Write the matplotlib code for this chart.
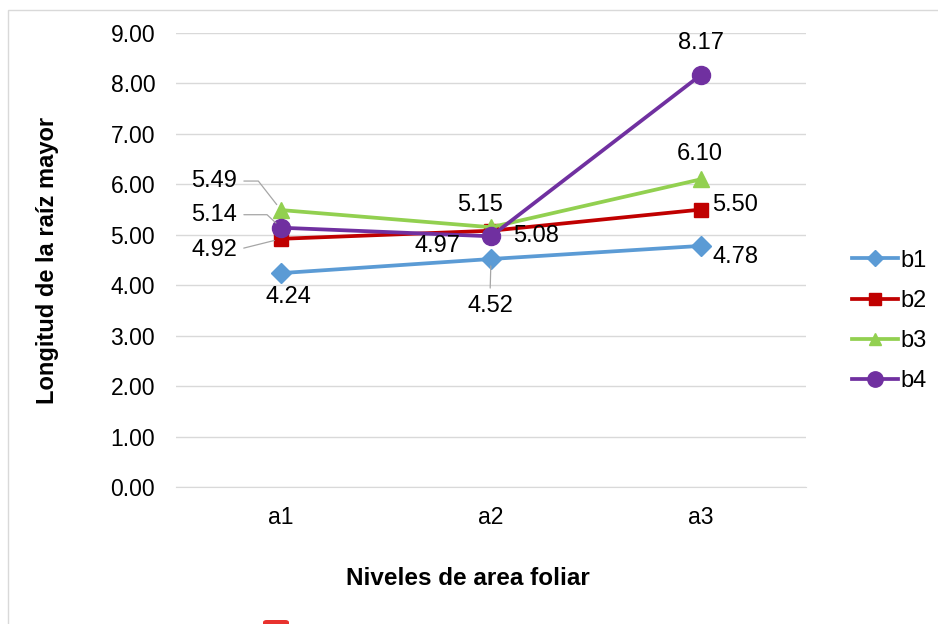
import matplotlib
matplotlib.use("Agg")
import matplotlib.pyplot as plt
from matplotlib.patches import Rectangle, FancyBboxPatch

plt.rcParams['font.family'] = ['Liberation Sans', 'DejaVu Sans']

categories = ["a1", "a2", "a3"]
b1 = [4.24, 4.52, 4.78]
b2 = [4.92, 5.08, 5.50]
b3 = [5.49, 5.15, 6.10]
b4 = [5.14, 4.97, 8.17]
series_names = ["b1", "b2", "b3", "b4"]
y_ticks = [0, 1, 2, 3, 4, 5, 6, 7, 8, 9]

W, H = 938, 624
fig = plt.figure(figsize=(W / 100, H / 100), dpi=100)
fig.patch.set_facecolor("white")

# outer chart frame
fig.patches.append(Rectangle((8 / W, -0.05), 1.2, (H - 10) / H + 0.05,
                             transform=fig.transFigure, fill=False,
                             edgecolor="#D9D9D9", lw=1.0))
# small red tab peeking in at the bottom edge
fig.patches.append(FancyBboxPatch((263 / W, -10 / H), 26 / W, 14 / H,
                                  boxstyle="round,pad=0,rounding_size=0.004",
                                  transform=fig.transFigure,
                                  facecolor="#E8322E", edgecolor="none"))

ax = fig.add_axes([176 / W, (H - 487) / H, 630 / W, (487 - 33) / H])
x = list(range(len(categories)))

styles = [
    (b1, "#5B9BD5", "D", 10),
    (b2, "#C00000", "s", 10),
    (b3, "#92D050", "^", 11),
    (b4, "#7030A0", "o", 13),
]
for (vals, col, mk, ms), name in zip(styles, series_names):
    ax.plot(x, vals, color=col, lw=2.7, marker=mk, markersize=ms,
            label=name, zorder=3)

ax.set_xlim(-0.5, 2.5)
ax.set_ylim(0, 9)
ax.set_yticks(y_ticks)
ax.set_yticklabels([f"{v:.2f}" for v in y_ticks])
ax.set_xticks(x)
ax.set_xticklabels(categories)
ax.tick_params(axis="both", length=0, labelsize=16.5, colors="#000000")
ax.tick_params(axis="y", pad=15)
ax.tick_params(axis="x", pad=14)
ax.grid(axis="y", color="#D9D9D9", lw=1.0)
ax.set_axisbelow(True)
for s in ["top", "right", "left"]:
    ax.spines[s].set_visible(False)
ax.spines["bottom"].set_color("#D9D9D9")

ax.set_ylabel("Longitud de la raíz mayor", fontsize=17, fontweight="bold",
              labelpad=37)
ax.set_xlabel("Niveles de area foliar", fontsize=17.5, fontweight="bold")
ax.xaxis.set_label_coords((468 - 176) / 630, (487 - 567) / 454)

# data labels: (series, category index, offset in pixels, leader connection)
label_specs = [
    (b1, 0, (7, -24), None),
    (b1, 1, (-1, -47), ((0.5, 1.0), "arc3")),
    (b1, 2, (34, -11), None),
    (b2, 0, (-67, -11), ((1.0, 0.5), "arc3")),
    (b2, 1, (45, -5), None),
    (b2, 2, (34, 5), None),
    (b3, 0, (-67, 29), ((1.0, 0.5), "angle,angleA=0,angleB=128,rad=0")),
    (b3, 1, (-11, 22), None),
    (b3, 2, (-1, 25), None),
    (b4, 0, (-67, 13), ((1.0, 0.5), "angle,angleA=0,angleB=137,rad=0")),
    (b4, 1, (-54, -10), None),
    (b4, 2, (0, 32), None),
]
for vals, i, off, lead in label_specs:
    kw = {}
    if lead is not None:
        rel, conn = lead
        kw["arrowprops"] = dict(arrowstyle="-", color="#A6A6A6", lw=0.9,
                                shrinkA=3, shrinkB=5, relpos=rel,
                                connectionstyle=conn)
    ax.annotate(f"{vals[i]:.2f}", xy=(i, vals[i]), xytext=off,
                textcoords="offset pixels", ha="center", va="center",
                fontsize=17, color="#000000", zorder=5, **kw)

leg = fig.legend(loc="center left", bbox_to_anchor=(852 / W, 1 - 321 / H),
                 frameon=False, fontsize=17, handlelength=1.95,
                 handletextpad=0.1, labelspacing=0.77, borderpad=0,
                 borderaxespad=0, markerscale=0.85)

fig.savefig("out.png", dpi=100, facecolor="white")
